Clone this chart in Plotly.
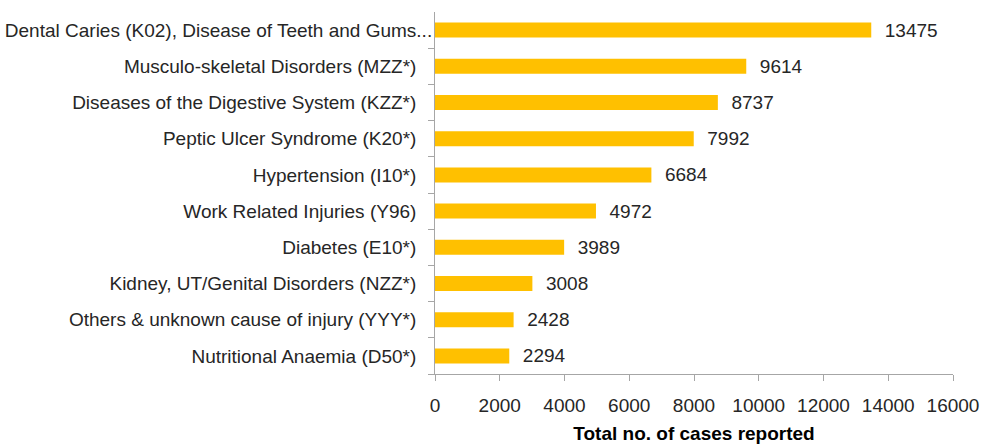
import plotly.graph_objects as go

categories = [
    "Dental Caries (K02), Disease of Teeth and Gums...",
    "Musculo-skeletal Disorders (MZZ*)",
    "Diseases of the Digestive System (KZZ*)",
    "Peptic Ulcer Syndrome (K20*)",
    "Hypertension (I10*)",
    "Work Related Injuries (Y96)",
    "Diabetes (E10*)",
    "Kidney, UT/Genital Disorders (NZZ*)",
    "Others & unknown cause of injury (YYY*)",
    "Nutritional Anaemia (D50*)",
]
cases = [13475, 9614, 8737, 7992, 6684, 4972, 3989, 3008, 2428, 2294]
x_ticks = [0, 2000, 4000, 6000, 8000, 10000, 12000, 14000, 16000]

font_family = "Liberation Sans, Arial, sans-serif"
NB = "\u00a0"

# Excel draws the truncated first label a bit closer to the axis
tick_text = [c if c.endswith("...") else c + NB * 3 for c in categories]

fig = go.Figure(
    go.Bar(
        y=categories,
        x=cases,
        orientation="h",
        marker=dict(color="#FFC000", line=dict(width=0)),
        text=[str(v) for v in cases],
        texttemplate=NB * 2 + "%{text}",
        textposition="outside",
        constraintext="none",
        textfont=dict(size=19, color="#262626", family=font_family),
        cliponaxis=False,
    )
)

fig.update_layout(
    width=982,
    height=444,
    margin=dict(l=435, r=29, t=12, b=70),
    plot_bgcolor="white",
    paper_bgcolor="white",
    bargap=0.585,
    showlegend=False,
    font=dict(family=font_family, size=19, color="#262626"),
)

fig.update_xaxes(
    range=[0, 16000],
    tickvals=x_ticks,
    ticktext=[str(v) for v in x_ticks],
    showgrid=False,
    zeroline=False,
    showline=True,
    linecolor="#A6A6A6",
    linewidth=1,
    ticks="outside",
    tickcolor="#A6A6A6",
    ticklen=6,
    tickfont=dict(size=19, color="#262626"),
    ticklabelstandoff=8,
    automargin=False,
    title=dict(text="<b>Total no. of cases reported</b>", font=dict(size=19, color="#000000"), standoff=14),
)

fig.update_yaxes(
    categoryorder="array",
    categoryarray=categories[::-1],
    tickvals=categories,
    ticktext=tick_text,
    showgrid=False,
    zeroline=False,
    showline=True,
    linecolor="#A6A6A6",
    linewidth=1,
    ticks="outside",
    tickson="boundaries",
    tickcolor="#A6A6A6",
    ticklen=6,
    tickfont=dict(size=19, color="#262626"),
    ticklabelstandoff=-2,
    automargin=False,
)

fig.write_html(
    "out.html",
    config={"displayModeBar": False},
    post_script="document.body.style.margin='0';",
)
